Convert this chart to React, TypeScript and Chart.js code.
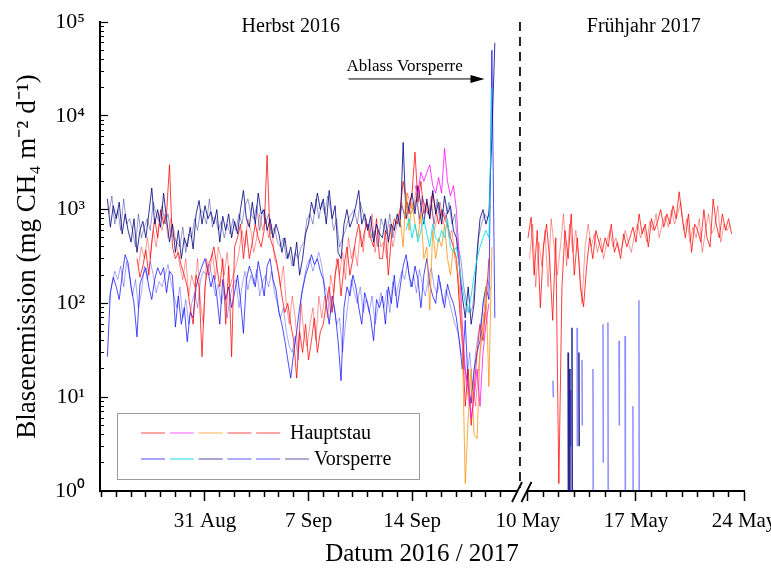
import React, { useEffect, useRef } from 'react';
import { Chart, registerables } from 'chart.js';
Chart.register(...registerables);

const FONT = "'Liberation Serif', 'Times New Roman', serif";

// ---- Herbst 2016: x = days since 24 Aug 2016, sampled every 0.2 d ----
const H_STEP = 0.2;
const NAVY_START = 0.4;
const NAVY = [1300, 650, 1100,
  800, 1200, 550, 900, 600,
  450, 800, 350, 600, 750,
  500, 900, 1700, 700, 1000,
  650, 1500, 800, 450, 700,
  350, 600, 300, 500, 400,
  650, 380, 900, 1250, 700,
  1100, 800, 950, 700, 1000,
  450, 850, 600, 900, 500,
  750, 550, 1000, 1600, 800,
  650, 1200, 700, 1500, 900,
  1000, 600, 800, 500, 700,
  550, 350, 500, 300, 400,
  250, 450, 200, 300, 550,
  700, 1200, 900, 1500, 1000,
  1300, 700, 1600, 800, 1100,
  350, 300, 700, 1000, 650,
  800, 1100, 1600, 700, 900,
  600, 850, 450, 700, 550,
  500, 800, 450, 700, 600,
  900, 650, 5200, 800, 1100,
  1500, 900, 1800, 1100, 700,
  1300, 800, 1600, 900, 1200,
  700, 1400, 900, 1100, 600,
  500, 250, 120, 70, 150,
  60, 100, 350, 800, 1000,
  700, 900, 6000, 60000];

const NAVY_B_START = 0.5;
const NAVY_B = [900, 1400, 700,
  1000, 600, 1300, 700, 800,
  600, 400, 900, 500, 650,
  800, 600, 1200, 900, 750,
  1100, 700, 900, 550, 500,
  450, 400, 650, 350, 550,
  500, 800, 600, 1000, 900,
  700, 1300, 650, 850, 600,
  750, 500, 700, 550, 800,
  600, 900, 700, 1100, 1300,
  900, 800, 1100, 600, 1000,
  700, 900, 550, 650, 450,
  400, 500, 300, 350, 250,
  350, 300, 400, 450, 800,
  900, 700, 1300, 800, 1200,
  900, 1400, 1000, 600, 800,
  400, 500, 600, 800, 900,
  1000, 700, 1200, 900, 650,
  700, 500, 600, 400, 800,
  650, 550, 900, 500, 750,
  700, 1100, 900, 1200, 900,
  1000, 1300, 800, 1400, 1000,
  900, 1100, 700, 1300, 800,
  1000, 800, 1200, 700, 900,
  400, 300, 150, 100, 80,
  90, 200, 500, 700, 900,
  800, 1100];

const BLUE_START = 0.4;
const BLUE = [27, 130, 190,
  150, 110, 200, 330, 270,
  150, 100, 44, 160, 200,
  240, 150, 110, 180, 240,
  200, 240, 130, 220, 200,
  56, 120, 60, 90, 39,
  80, 70, 150, 200, 250,
  300, 220, 150, 200, 120,
  60, 180, 110, 150, 90,
  130, 200, 110, 48, 180,
  250, 200, 150, 280, 190,
  120, 250, 300, 180, 140,
  80, 60, 40, 25, 16,
  30, 50, 90, 140, 200,
  250, 330, 260, 300, 220,
  180, 100, 60, 120, 80,
  40, 15, 90, 150, 120,
  200, 150, 90, 60, 130,
  100, 70, 40, 110, 90,
  120, 60, 150, 100, 200,
  90, 150, 250, 330, 200,
  150, 250, 180, 90, 200,
  300, 160, 120, 100, 200,
  130, 90, 160, 120, 100,
  70, 40, 20, 66, 13,
  8.6, 20, 30, 40, 100,
  150, 110, 50000, 70];

const BLUE_B_START = 0.5;
const BLUE_B = [100, 160, 220,
  180, 250, 150, 280, 200,
  120, 180, 90, 130, 250,
  180, 280, 200, 130, 170,
  150, 200, 260, 170, 120,
  90, 150, 70, 110, 60,
  100, 130, 90, 180, 220,
  200, 260, 180, 120, 160,
  100, 140, 70, 120, 160,
  180, 90, 150, 220, 140,
  200, 160, 230, 120, 170,
  200, 150, 220, 130, 100,
  70, 90, 50, 35, 30,
  45, 25, 120, 180, 260,
  300, 220, 280, 350, 250,
  150, 130, 80, 100, 60,
  70, 30, 60, 110, 180,
  130, 100, 150, 80, 110,
  80, 120, 60, 90, 130,
  90, 140, 80, 170, 120,
  160, 220, 180, 280, 150,
  200, 130, 230, 160, 120,
  180, 240, 150, 130, 170,
  100, 140, 110, 80, 60,
  50, 30, 25, 15, 30,
  12, 30, 50, 70, 120,
  180, 140];

const RED_START = 2.4;
const RED = [300, 190, 250,
  370, 200, 450, 800, 500,
  1000, 700, 900, 3000, 400,
  300, 350, 250, 200, 150,
  90, 60, 200, 150, 27,
  150, 250, 300, 400, 250,
  150, 300, 60, 250, 27,
  400, 500, 700, 300, 600,
  300, 450, 700, 500, 400,
  600, 3800, 500, 400, 300,
  200, 120, 80, 100, 60,
  40, 16, 50, 30, 60,
  25, 40, 70, 30, 50,
  60, 100, 150, 80, 200,
  300, 120, 250, 400, 200,
  300, 500, 700, 400, 600,
  700, 500, 400, 800, 300,
  300, 600, 200, 500, 800,
  700, 1000, 2000, 1300, 900,
  1500, 4100, 1200, 2000, 900,
  1200, 800, 1500, 1000, 700,
  1000, 800, 700, 500, 400,
  300, 100, 40, 8, 20,
  5, 12, 30, 60, 40,
  100, 300];

const RED_B_START = 2.5;
const RED_B = [250, 400, 300,
  500, 300, 600, 400, 700,
  600, 900, 500, 800, 600,
  400, 250, 180, 300, 120,
  200, 150, 300, 100, 60,
  300, 200, 350, 180, 400,
  300, 200, 350, 150, 200,
  250, 350, 600, 400, 800,
  600, 350, 500, 900, 600,
  800, 500, 700, 300, 250,
  150, 250, 100, 60, 120,
  70, 30, 100, 45, 35,
  60, 90, 40, 120, 70,
  120, 70, 200, 130, 300,
  200, 350, 180, 500, 300,
  400, 250, 600, 350, 800,
  500, 900, 350, 600, 400,
  450, 300, 700, 400, 600,
  900, 1200, 800, 1500, 1100,
  1000, 1800, 700, 1300, 1100,
  900, 1400, 600, 800, 1200,
  700, 900, 500, 600, 300,
  200, 60, 25, 12, 8,
  15, 8, 20, 45, 80,
  60];

const MAGENTA_START = 21.2;
const MAGENTA = [1800, 1500, 2500, 2000,
  2500, 3000, 1800, 1500, 2200,
  1500, 4500, 2000, 1400, 1800,
  1000, 300, 60, 20, 12,
  6, 10, 20, 8, 30,
  60, 100];

const ORANGE_START = 20.2;
const ORANGE = [800, 400, 1500, 600,
  1200, 700, 500, 900, 300,
  400, 85, 600, 300, 500,
  400, 700, 300, 200, 400,
  300, 150, 40, 1.2, 6,
  20, 4, 3.6, 30, 60,
  150, 13, 400];

const CYAN_START = 20.6;
const CYAN = [600, 800,
  500, 700, 450, 600, 800,
  550, 400, 700, 500, 450,
  600, 500, 800, 400, 350,
  400, 250, 150, 100, 80,
  120, 200, 300, 400, 500,
  600, 500, 20000];

// ---- Frühjahr 2017: x = day of May 2017 ----
const F_STEP = 0.2;
const SPRING_RED_START = 10.0;
const SPRING_RED = [500, 830, 200, 600, 90,
  400, 700, 300, 66, 500,
  1.2, 150, 600, 300, 900,
  200, 500, 150, 92, 250,
  500, 300, 600, 450, 350,
  500, 400, 700, 350, 450,
  300, 550, 400, 500, 650,
  450, 900, 550, 700, 400,
  800, 600, 750, 1000, 650,
  900, 700, 1100, 800, 1550,
  800, 500, 900, 350, 700,
  600, 450, 1000, 500, 400,
  1300, 700, 500, 900, 600,
  800, 550];

const SPRING_RED_B_START = 10.1;
const SPRING_RED_B = [300, 700, 150, 450, 250,
  600, 150, 800, 400, 200,
  400, 900, 250, 700, 350,
  600, 300, 100, 400, 700,
  400, 550, 350, 500, 300,
  450, 600, 400, 500, 350,
  400, 600, 450, 350, 550,
  700, 500, 650, 450, 750,
  600, 900, 500, 700, 850,
  650, 1000, 700, 900, 1200,
  600, 800, 450, 650, 500,
  800, 350, 600, 900, 550,
  650, 1100, 450, 700, 600,
  700];

const SPRING_NAVY_T = [12.6, 12.7, 12.85, 13.3];
const SPRING_NAVY_TOP = [30, 20, 55, 30];
const SPRING_NAVY_BOTTOM = [0.5, 0.5, 0.5, 3];

const SPRING_BLUE_T = [11.62, 12.75, 13.18, 13.5, 14.21, 14.86, 15.18, 15.9, 16.29, 16.8, 17.19];
const SPRING_BLUE_TOP = [15, 12, 55, 25, 20, 60, 63, 40, 45, 8, 108];
const SPRING_BLUE_BOTTOM = [10, 3, 3, 5, 0.5, 2, 0.5, 5, 0.5, 0.5, 0.5];

// ---- axes ----
const H_TICK_DAYS = Array.from({ length: 28 }, (_, i) => i);
const H_TICK_LABELS: Record<number, string> = { 7: '31 Aug', 14: '7 Sep', 21: '14 Sep' };
const F_TICK_DAYS = Array.from({ length: 15 }, (_, i) => 10 + i);
const F_TICK_LABELS: Record<number, string> = { 10: '10 May', 17: '17 May', 24: '24 May' };
const H_MIN = -0.1, H_MAX = 43.45;
const F_MIN = -17.74, F_MAX = 24;
const BREAK_H = 28.3; // herbst-day coordinate of the separator
const SUP = ['⁰', '¹', '²', '³', '⁴', '⁵'];

const LEGEND_H_COLORS = ['rgba(255,0,0,0.55)', 'rgba(255,0,255,0.5)', 'rgba(255,140,0,0.55)', 'rgba(255,0,0,0.55)', 'rgba(255,0,0,0.55)'];
const LEGEND_V_COLORS = ['rgba(0,0,255,0.55)', 'rgba(0,220,230,0.7)', 'rgba(0,0,128,0.55)', 'rgba(0,0,255,0.5)', 'rgba(0,0,255,0.5)', 'rgba(0,0,128,0.5)'];

const series = (start: number, step: number, vals: number[]) => vals.map((v, i) => ({ x: +(start + i * step).toFixed(3), y: v }));
const spikes = (t: number[], top: number[], bottom: number[]) => {
  const out: any[] = [];
  t.forEach((tt, i) => {
    out.push({ x: tt, y: top[i] });
    out.push({ x: tt + 0.02, y: bottom[i] });
    out.push({ x: tt + 0.03, y: null });
  });
  return out;
};
const fToH = (m: number) => H_MIN + ((m - F_MIN) / (F_MAX - F_MIN)) * (H_MAX - H_MIN);

const decorPlugin = {
  id: 'decor',
  afterDraw(chart: any) {
    const { ctx, chartArea } = chart;
    const xs = chart.scales.x, xf = chart.scales.xF, ys = chart.scales.y;
    ctx.save();
    const sx = xs.getPixelForValue(BREAK_H);
    ctx.strokeStyle = '#222';
    ctx.lineWidth = 2;
    ctx.setLineDash([9, 6]);
    ctx.beginPath();
    ctx.moveTo(sx, chartArea.top);
    ctx.lineTo(sx, chartArea.bottom);
    ctx.stroke();
    ctx.setLineDash([]);
    const gl = xs.getPixelForValue(28.1), gr = xf.getPixelForValue(9.9);
    ctx.fillStyle = '#fff';
    ctx.fillRect(gl, chartArea.bottom - 3, gr - gl, 6);
    ctx.strokeStyle = '#000';
    ctx.lineWidth = 1.8;
    ctx.beginPath();
    ctx.moveTo(gl - 5, chartArea.bottom + 11);
    ctx.lineTo(gl + 5, chartArea.bottom - 9);
    ctx.moveTo(gr - 5, chartArea.bottom + 11);
    ctx.lineTo(gr + 5, chartArea.bottom - 9);
    ctx.stroke();
    ctx.fillStyle = '#000';
    ctx.textAlign = 'center';
    ctx.textBaseline = 'middle';
    ctx.font = `20px ${FONT}`;
    ctx.fillText('Herbst 2016', xs.getPixelForValue(12.8), 27);
    ctx.fillText('Frühjahr 2017', xf.getPixelForValue(17.5), 27);
    ctx.font = `17px ${FONT}`;
    ctx.fillText('Ablass Vorsperre', xs.getPixelForValue(20.5), 67);
    const ay = ys.getPixelForValue(24700);
    const ax0 = xs.getPixelForValue(16.7), ax1 = xs.getPixelForValue(25.9);
    ctx.lineWidth = 1;
    ctx.beginPath();
    ctx.moveTo(ax0, ay);
    ctx.lineTo(ax1 - 12, ay);
    ctx.stroke();
    ctx.beginPath();
    ctx.moveTo(ax1, ay);
    ctx.lineTo(ax1 - 14, ay - 4);
    ctx.lineTo(ax1 - 14, ay + 4);
    ctx.closePath();
    ctx.fill();
    ctx.strokeStyle = '#9a9a9a';
    ctx.lineWidth = 1;
    ctx.strokeRect(117.5, 413.5, 302, 66);
    const rows = [
      { y: 433, colors: LEGEND_H_COLORS, label: 'Hauptstau', tx: 290 },
      { y: 459, colors: LEGEND_V_COLORS, label: 'Vorsperre', tx: 314 },
    ];
    rows.forEach((r) => {
      r.colors.forEach((c, i) => {
        const x0 = 141 + i * 28.8;
        ctx.strokeStyle = c;
        ctx.lineWidth = 1.3;
        ctx.beginPath();
        ctx.moveTo(x0, r.y);
        ctx.lineTo(x0 + 24, r.y);
        ctx.stroke();
      });
      ctx.fillStyle = '#000';
      ctx.font = `20px ${FONT}`;
      ctx.textAlign = 'left';
      ctx.fillText(r.label, r.tx, r.y + 1);
    });
    ctx.restore();
  },
};

export default function App() {
  const ref = useRef<HTMLCanvasElement>(null);
  useEffect(() => {
    const ds = (label: string, data: any[], color: string, axis = 'x', width = 1) => ({
      label, data, borderColor: color, backgroundColor: color, borderWidth: width,
      pointRadius: 0, fill: false, tension: 0, spanGaps: false, xAxisID: axis, yAxisID: 'y',
    });
    const chart = new Chart(ref.current!, {
      type: 'line',
      data: {
        datasets: [
          ds('Vorsperre cyan', series(CYAN_START, H_STEP, CYAN), 'rgba(0,225,235,0.85)'),
          ds('Hauptstau magenta', series(MAGENTA_START, H_STEP, MAGENTA), 'rgba(255,0,255,0.75)'),
          ds('Hauptstau orange', series(ORANGE_START, H_STEP, ORANGE), 'rgba(255,140,0,0.75)'),
          ds('Vorsperre navy', series(NAVY_START, H_STEP, NAVY), 'rgba(0,0,128,0.8)'),
          ds('Vorsperre navy b', series(NAVY_B_START, H_STEP, NAVY_B), 'rgba(0,0,128,0.4)'),
          ds('Hauptstau', series(RED_START, H_STEP, RED), 'rgba(255,0,0,0.75)'),
          ds('Hauptstau b', series(RED_B_START, H_STEP, RED_B), 'rgba(255,0,0,0.4)'),
          ds('Vorsperre', series(BLUE_START, H_STEP, BLUE), 'rgba(0,0,255,0.7)'),
          ds('Vorsperre b', series(BLUE_B_START, H_STEP, BLUE_B), 'rgba(0,0,255,0.35)'),
          ds('Hauptstau 2017', series(SPRING_RED_START, F_STEP, SPRING_RED), 'rgba(255,0,0,0.75)', 'xF'),
          ds('Hauptstau 2017 b', series(SPRING_RED_B_START, F_STEP, SPRING_RED_B), 'rgba(255,0,0,0.4)', 'xF'),
          ds('Vorsperre 2017 navy', spikes(SPRING_NAVY_T, SPRING_NAVY_TOP, SPRING_NAVY_BOTTOM), 'rgba(0,0,128,0.85)', 'xF', 1.5),
          ds('Vorsperre 2017', spikes(SPRING_BLUE_T, SPRING_BLUE_TOP, SPRING_BLUE_BOTTOM), 'rgba(0,0,255,0.45)', 'xF', 1.5),
        ],
      },
      options: {
        animation: false,
        responsive: true,
        maintainAspectRatio: false,
        layout: { padding: { top: 22, right: 27, left: 0, bottom: 0 } },
        plugins: { legend: { display: false }, tooltip: { enabled: false } },
        scales: {
          x: {
            type: 'linear', position: 'bottom', min: H_MIN, max: H_MAX,
            afterBuildTicks: (s: any) => {
              const t: any[] = [];
              H_TICK_DAYS.forEach((d) => t.push({ value: d, major: !!H_TICK_LABELS[d], lbl: H_TICK_LABELS[d] || '' }));
              F_TICK_DAYS.forEach((m) => t.push({ value: fToH(m), major: !!F_TICK_LABELS[m], lbl: F_TICK_LABELS[m] || '' }));
              s.ticks = t;
            },
            afterFit: (s: any) => { s.height = 80; s.paddingLeft = 0; s.paddingRight = 0; },
            ticks: {
              autoSkip: false, maxRotation: 0, minRotation: 0, color: '#000', padding: 8,
              font: { family: FONT, size: 21 },
              callback: (_v: any, i: number, ticks: any[]) => ticks[i].lbl,
            },
            grid: {
              drawOnChartArea: false, drawTicks: true, tickLength: 10, tickColor: '#000', tickWidth: 1.5,
              tickBorderDash: (c: any) => (c.tick && c.tick.major ? [] : [5, 50]),
            },
            border: { color: '#000', width: 2 },
            title: { display: true, text: 'Datum 2016 / 2017', color: '#000', font: { family: FONT, size: 25 }, padding: { top: 0, bottom: 2 } },
          },
          xF: { type: 'linear', display: false, min: F_MIN, max: F_MAX },
          y: {
            type: 'logarithmic', position: 'left', min: 1, max: 100000,
            afterBuildTicks: (s: any) => {
              const t: any[] = [];
              for (let k = 0; k < 5; k++) for (let m = 1; m <= 9; m++) t.push({ value: m * Math.pow(10, k), major: m === 1 });
              t.push({ value: 100000, major: true });
              s.ticks = t;
            },
            afterFit: (s: any) => { s.width = 100; s.paddingTop = 0; s.paddingBottom = 0; },
            ticks: {
              autoSkip: false, color: '#000', padding: 23,
              font: { family: FONT, size: 22 },
              callback: (v: any, i: number, ticks: any[]) => (ticks[i].major ? '10' + SUP[Math.round(Math.log10(v))] : ''),
            },
            grid: {
              drawOnChartArea: false, drawTicks: true, tickLength: -8, tickColor: '#000', tickWidth: 1.2,
              tickBorderDash: (c: any) => (c.tick && c.tick.major ? [] : [0, 4, 4, 40]),
            },
            border: { color: '#000', width: 2 },
            title: { display: true, text: 'Blasenemission (mg CH₄ m⁻² d⁻¹)', color: '#000', font: { family: FONT, size: 27 }, padding: { top: 12, bottom: 0 } },
          },
        },
      },
      plugins: [decorPlugin],
    } as any);
    return () => chart.destroy();
  }, []);
  return (
    <div style={{ position: 'fixed', left: 0, top: 0, width: 771, height: 571, background: '#fff' }}>
      <canvas ref={ref} />
    </div>
  );
}
